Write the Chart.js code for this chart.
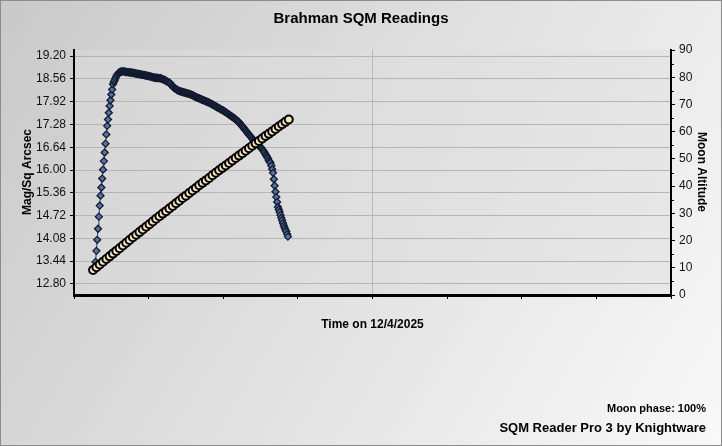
<!DOCTYPE html>
<html>
<head>
<meta charset="utf-8">
<script src="https://cdn.jsdelivr.net/npm/chart.js@4.4.1/dist/chart.umd.min.js"></script>
<style>
  html, body { margin: 0; padding: 0; background: #fff; }
  #wrap { width: 722px; height: 446px; }
</style>
</head>
<body>
<div id="wrap"><canvas id="sqm-chart" width="722" height="446"></canvas></div>
<script>
// minutes after 18:00 on the night of 12/4/2025, axis runs 18:00 -> 06:00
var axisStartMinute = 0;
var axisEndMinute = 720;

// SQM reading once a minute
var sqmStartMinute = 26;
var sqmReadings = [
  13.42, 13.73, 14.04, 14.35, 14.69, 15.00, 15.28, 15.51, 15.76, 16.01,
  16.25, 16.49, 16.74, 17.00, 17.24, 17.42, 17.61, 17.80, 17.96, 18.12,
  18.26, 18.41, 18.47, 18.52, 18.58, 18.63, 18.67, 18.70, 18.73, 18.74,
  18.76, 18.76, 18.77, 18.77, 18.77,
  18.76, 18.76, 18.75, 18.75, 18.75, 18.74, 18.74, 18.74, 18.73, 18.73,
  18.73, 18.72, 18.72, 18.71, 18.71, 18.70, 18.70, 18.70, 18.69, 18.69,
  18.68, 18.68, 18.67, 18.67, 18.66, 18.66, 18.65, 18.65, 18.64, 18.64,
  18.63, 18.63, 18.62, 18.61, 18.61, 18.60, 18.59, 18.59, 18.59, 18.59,
  18.58, 18.58, 18.58, 18.58, 18.57, 18.56, 18.55, 18.54, 18.53, 18.52,
  18.50, 18.49, 18.48, 18.46, 18.45, 18.44, 18.40, 18.37, 18.34, 18.32,
  18.30, 18.29, 18.27, 18.26, 18.24, 18.23, 18.22, 18.21, 18.20, 18.20,
  18.19, 18.18, 18.18, 18.17, 18.16, 18.16, 18.15, 18.14, 18.14, 18.13,
  18.12, 18.11, 18.10, 18.09, 18.07, 18.06, 18.05, 18.04, 18.03, 18.02,
  18.01, 18.00, 17.99, 17.98, 17.97, 17.96, 17.95, 17.94, 17.93, 17.92,
  17.91, 17.90, 17.89, 17.88, 17.87, 17.85, 17.84, 17.83, 17.81, 17.80,
  17.79, 17.77, 17.76, 17.75, 17.73, 17.72, 17.71, 17.69, 17.68, 17.67,
  17.65, 17.64, 17.62, 17.61, 17.59, 17.57, 17.56, 17.54, 17.52, 17.51,
  17.49, 17.47, 17.46, 17.44, 17.42, 17.40, 17.38, 17.36, 17.34, 17.31,
  17.28, 17.25, 17.23, 17.20, 17.17, 17.14, 17.11, 17.08, 17.05, 17.02,
  16.99, 16.96, 16.94, 16.91, 16.88, 16.85, 16.82, 16.79, 16.76, 16.74,
  16.72, 16.70, 16.68, 16.66, 16.64, 16.61, 16.58, 16.55, 16.52, 16.48,
  16.44, 16.40, 16.36, 16.32, 16.27, 16.23, 16.20, 16.12, 16.02, 15.92,
  15.74, 15.56, 15.39, 15.24, 15.10, 14.96, 14.89, 14.82, 14.74, 14.66,
  14.59, 14.51, 14.44, 14.38, 14.32, 14.27, 14.20, 14.13
];

// moon altitude every 4 minutes
var moonStartMinute = 23;
var moonStepMinutes = 4;
var moonAltitude = [
  9.2, 10.2, 11.2, 12.2, 13.2, 14.2, 15.2, 16.2, 17.2, 18.2,
  19.2, 20.2, 21.2, 22.1, 23.1, 24.1, 25.1, 26.0, 27.0, 28.0,
  28.9, 29.9, 30.8, 31.8, 32.7, 33.7, 34.6, 35.6, 36.5, 37.5,
  38.4, 39.3, 40.3, 41.2, 42.1, 43.0, 44.0, 44.9, 45.8, 46.7,
  47.6, 48.5, 49.4, 50.3, 51.2, 52.1, 53.0, 53.9, 54.8, 55.7,
  56.6, 57.5, 58.4, 59.2, 60.1, 61.0, 61.9, 62.7, 63.6, 64.5
];

var sqmTicks = [12.80, 13.44, 14.08, 14.72, 15.36, 16.00, 16.64, 17.28, 17.92, 18.56, 19.20];
var sqmMin = 12.49;
var sqmMax = 19.37;

var sqmPoints = sqmReadings.map(function (v, i) { return { x: sqmStartMinute + i, y: v }; });
var moonPoints = moonAltitude.map(function (v, i) { return { x: moonStartMinute + i * moonStepMinutes, y: v }; });

var FONT = "'Liberation Sans', Arial, sans-serif";

var decorPlugin = {
  id: 'decor',
  beforeDraw: function (chart) {
    var ctx = chart.ctx, w = chart.width, h = chart.height, a = chart.chartArea;
    ctx.save();
    var bg = ctx.createLinearGradient(0, 0, w, h);
    bg.addColorStop(0, '#c9c9c9');
    bg.addColorStop(1, '#f9f9f9');
    ctx.fillStyle = bg;
    ctx.fillRect(0, 0, w, h);
    var pg = ctx.createLinearGradient(a.left, a.top, a.right, a.bottom);
    pg.addColorStop(0, '#d5d5d5');
    pg.addColorStop(1, '#e8e8e8');
    ctx.fillStyle = pg;
    ctx.fillRect(a.left, a.top, a.right - a.left, a.bottom - a.top);
    ctx.restore();
  },
  afterDraw: function (chart) {
    var ctx = chart.ctx, a = chart.chartArea;
    ctx.save();
    ctx.fillStyle = '#000';
    ctx.textBaseline = 'middle';

    ctx.textAlign = 'center';
    ctx.font = 'bold 15px ' + FONT;
    ctx.fillText('Brahman SQM Readings', 361, 19);

    ctx.font = 'bold 12px ' + FONT;
    ctx.fillText('Time on 12/4/2025', (a.left + a.right) / 2, 325);

    ctx.save();
    ctx.translate(28, 172);
    ctx.rotate(-Math.PI / 2);
    ctx.fillText('Mag/Sq Arcsec', 0, 0);
    ctx.restore();

    ctx.save();
    ctx.translate(701, 172);
    ctx.rotate(Math.PI / 2);
    ctx.fillText('Moon Altitude', 0, 0);
    ctx.restore();

    ctx.textAlign = 'right';
    ctx.font = 'bold 11px ' + FONT;
    ctx.fillText('Moon phase: 100%', 706, 409);
    ctx.font = 'bold 13px ' + FONT;
    ctx.fillText('SQM Reader Pro 3 by Knightware', 706, 428);

    // minor ticks on the moon axis
    var y1 = chart.scales.y1;
    ctx.strokeStyle = '#000';
    ctx.lineWidth = 1;
    for (var v = 5; v < 90; v += 10) {
      var py = Math.round(y1.getPixelForValue(v)) + 0.5;
      ctx.beginPath();
      ctx.moveTo(a.right, py);
      ctx.lineTo(a.right + 3, py);
      ctx.stroke();
    }

    // frame
    ctx.strokeStyle = '#8c8c8c';
    ctx.strokeRect(0.5, 0.5, chart.width - 1, chart.height - 1);
    ctx.restore();
  }
};

var ctx = document.getElementById('sqm-chart');
var sqmChart = new Chart(ctx, {
  type: 'scatter',
  data: {
    datasets: [
      {
        label: 'Moon Altitude',
        data: moonPoints,
        yAxisID: 'y1',
        showLine: true,
        borderColor: '#000',
        borderWidth: 1,
        pointStyle: 'circle',
        pointRadius: 4,
        pointBackgroundColor: '#f7e2bf',
        pointBorderColor: '#000',
        pointBorderWidth: 2
      },
      {
        label: 'Mag/Sq Arcsec',
        data: sqmPoints,
        yAxisID: 'y',
        showLine: true,
        borderColor: '#2e3f66',
        borderWidth: 1,
        pointStyle: 'rectRot',
        pointRadius: 3.5,
        pointBackgroundColor: '#5673a3',
        pointBorderColor: '#121a30',
        pointBorderWidth: 1.3
      }
    ]
  },
  options: {
    responsive: false,
    animation: false,
    devicePixelRatio: 1,
    layout: { padding: { top: 50, left: 0, right: 0, bottom: 0 } },
    plugins: { legend: { display: false }, tooltip: { enabled: false } },
    scales: {
      x: {
        type: 'linear',
        min: axisStartMinute,
        max: axisEndMinute,
        afterFit: function (s) { s.height = 151; },
        ticks: { stepSize: 90, callback: function () { return ''; } },
        grid: {
          color: function (c) { return c.tick && c.tick.value === 360 ? '#b9b9b9' : 'rgba(0,0,0,0)'; },
          tickColor: '#000',
          tickLength: 4
        },
        border: { display: true, color: '#000', width: 3 }
      },
      y: {
        position: 'left',
        min: sqmMin,
        max: sqmMax,
        afterFit: function (s) { s.width = 74; },
        afterBuildTicks: function (s) { s.ticks = sqmTicks.map(function (v) { return { value: v }; }); },
        ticks: {
          color: '#111',
          font: { family: FONT, size: 12 },
          padding: 4,
          callback: function (v) { return Number(v).toFixed(2); }
        },
        grid: { color: '#b5b5b5', tickColor: '#000', tickLength: 4 },
        border: { display: true, color: '#000', width: 2 }
      },
      y1: {
        position: 'right',
        min: 0,
        max: 90,
        afterFit: function (s) { s.width = 51; },
        ticks: {
          stepSize: 10,
          color: '#111',
          font: { family: FONT, size: 12 },
          padding: 4
        },
        grid: { drawOnChartArea: false, tickColor: '#000', tickLength: 4 },
        border: { display: true, color: '#000', width: 2 }
      }
    }
  },
  plugins: [decorPlugin]
});
</script>
</body>
</html>
